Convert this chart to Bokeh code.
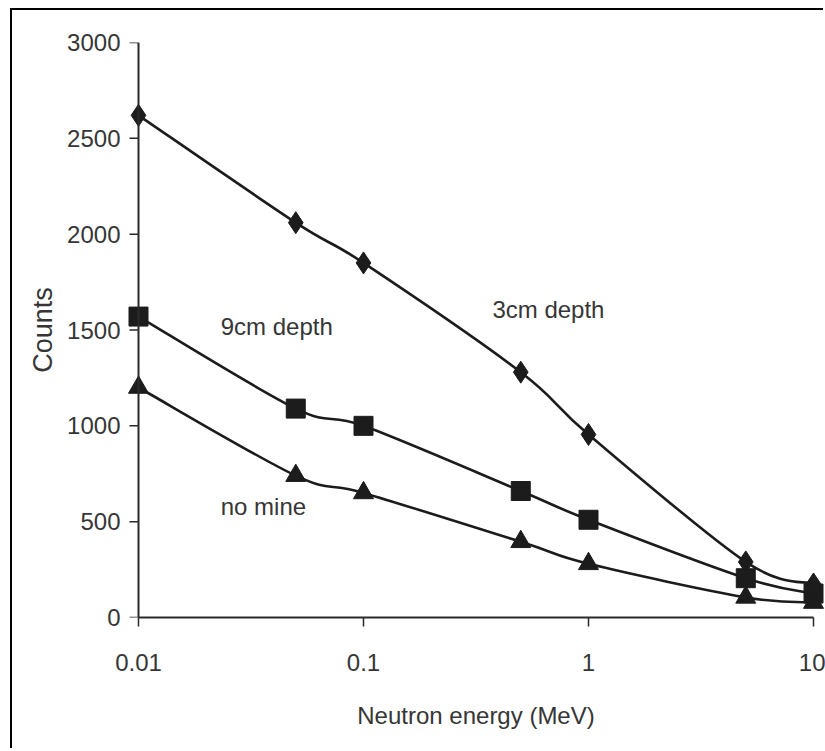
import numpy as np
from bokeh.plotting import figure
from bokeh.models import FixedTicker, Label, ColumnDataSource, Span
from bokeh.embed import file_html
from bokeh.resources import INLINE

# ---- data ----
energy = [0.01, 0.05, 0.1, 0.5, 1, 5, 10]
depth_3cm = [2620, 2060, 1850, 1280, 955, 290, 175]
depth_9cm = [1570, 1090, 1000, 660, 510, 205, 125]
no_mine = [1200, 740, 650, 395, 280, 105, 78]
x_ticks = [0.01, 0.1, 1, 10]
x_tick_labels = ["0.01", "0.1", "1", "10"]
y_ticks = [0, 500, 1000, 1500, 2000, 2500, 3000]

FONT = "Liberation Sans, Arial, sans-serif"
INK = "#1c1c1c"
TXT = "#363636"
AX = "#2a2a2a"

# canvas starts at (12, 10); the outer frame is drawn as a shadow on top/left
W, H = 813, 740
DECADE_PX = 225
# a little room either side of the axis so the end markers are not clipped
x_lo = 10 ** (np.log10(x_ticks[0]) - 12 / DECADE_PX)
x_hi = 10 ** (np.log10(x_ticks[-1]) + 12 / DECADE_PX)
p = figure(width=W, height=H, x_axis_type="log",
           x_range=(x_lo, x_hi), y_range=(y_ticks[0], y_ticks[-1]),
           output_backend="svg", toolbar_location=None,
           min_border_left=114, min_border_right=0,
           min_border_top=32, min_border_bottom=133)
p.styles = {"margin-left": "12px", "margin-top": "10px",
            "box-shadow": "-2px -2px 0 0 #000", "overflow": "hidden"}
p.outline_line_color = None
p.grid.visible = False
p.background_fill_color = "white"
p.border_fill_color = "white"


def smooth_segments(xs, ys):
    lx = np.log10(np.array(xs, dtype=float))
    yy = np.array(ys, dtype=float)
    n = len(lx)
    cols = {k: [] for k in ("x0", "y0", "x1", "y1", "cx0", "cy0", "cx1", "cy1")}
    for i in range(n - 1):
        im = max(i - 1, 0)
        ip2 = min(i + 2, n - 1)
        cols["x0"].append(10 ** lx[i]); cols["y0"].append(yy[i])
        cols["x1"].append(10 ** lx[i + 1]); cols["y1"].append(yy[i + 1])
        cols["cx0"].append(10 ** (lx[i] + (lx[i + 1] - lx[im]) / 6))
        cols["cy0"].append(yy[i] + (yy[i + 1] - yy[im]) / 6)
        cols["cx1"].append(10 ** (lx[i + 1] - (lx[ip2] - lx[i]) / 6))
        cols["cy1"].append(yy[i + 1] - (yy[ip2] - yy[i]) / 6)
    return ColumnDataSource(cols)


# y axis line and its outward ticks at x = 0.01
p.add_layout(Span(location=x_ticks[0], dimension="height",
                  line_color=AX, line_width=2))
tick_x0 = 10 ** (np.log10(x_ticks[0]) - 9 / DECADE_PX)
p.segment(x0=[tick_x0] * len(y_ticks), y0=y_ticks,
          x1=[x_ticks[0]] * len(y_ticks), y1=y_ticks,
          line_color=AX, line_width=1.5)

for series, marker, size in [(depth_3cm, "diamond", 22),
                             (depth_9cm, "square", 19),
                             (no_mine, "triangle", 20)]:
    src = smooth_segments(energy, series)
    p.bezier(x0="x0", y0="y0", x1="x1", y1="y1", cx0="cx0", cy0="cy0",
             cx1="cx1", cy1="cy1", source=src, line_color=INK, line_width=2.6)
    p.scatter(energy, series, marker=marker, size=size,
              fill_color=INK, line_color=INK)

# axes
for ax in (p.xaxis[0], p.yaxis[0]):
    ax.axis_line_color = AX
    ax.axis_line_width = 2
    ax.major_tick_line_color = AX
    ax.major_tick_line_width = 1.5
    ax.major_tick_in = 0
    ax.major_tick_out = 9
    ax.minor_tick_line_color = None
    ax.major_label_text_font = FONT
    ax.major_label_text_font_size = "24px"
    ax.major_label_text_color = TXT
    ax.axis_label_text_font_style = "normal"
    ax.axis_label_text_color = TXT

p.xaxis.ticker = FixedTicker(ticks=x_ticks)
p.xaxis.bounds = (x_ticks[0], x_ticks[-1])
p.xaxis.major_label_overrides = dict(zip(x_ticks, x_tick_labels))
p.xaxis.major_label_standoff = 27
p.xaxis.axis_label = "Neutron energy (MeV)"
p.xaxis.axis_label_text_font = FONT
p.xaxis.axis_label_text_font_size = "24px"
p.xaxis.axis_label_standoff = 28

p.yaxis.ticker = FixedTicker(ticks=y_ticks)
p.yaxis.axis_line_color = None
p.yaxis.major_tick_line_color = None
p.yaxis.major_tick_out = 0
p.yaxis.major_label_standoff = 6
p.yaxis.axis_label = "Counts"
p.yaxis.axis_label_text_font = FONT
p.yaxis.axis_label_text_font_size = "27px"
p.yaxis.axis_label_standoff = 6

for txt, x, y in [("3cm depth", 0.374, 1607),
                  ("9cm depth", 0.0232, 1518),
                  ("no mine", 0.0232, 579)]:
    p.add_layout(Label(x=x, y=y, text=txt, text_font=FONT,
                       text_font_size="24px", text_color=TXT,
                       text_baseline="middle", text_align="left"))

open("out.html", "w").write(file_html(p, INLINE))
